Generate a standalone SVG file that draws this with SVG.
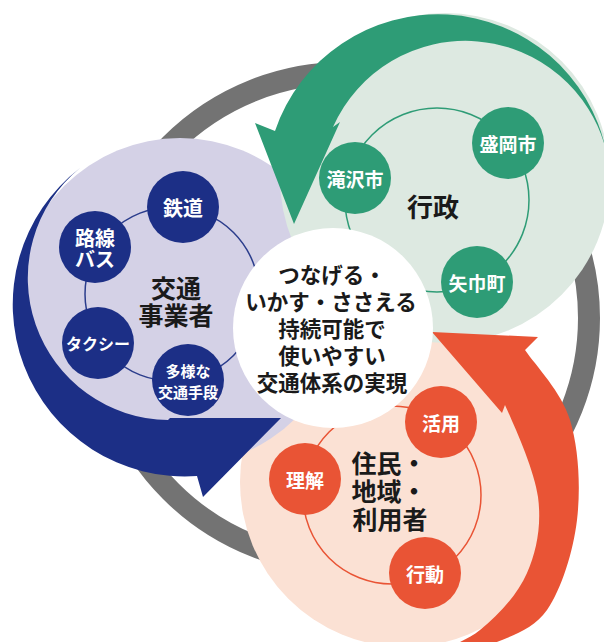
<svg xmlns="http://www.w3.org/2000/svg" width="604" height="642" viewBox="0 0 604 642">
<style>
.jp{font-family:"Noto Sans CJK JP","Noto Sans CJK SC",sans-serif;text-anchor:middle;dominant-baseline:central}
.nl{fill:#ffffff;font-weight:700;font-size:19px}
.hd{fill:#1a1a1a;font-weight:700}
.ring{fill:none;stroke-width:1.5}
.navy{fill:#1c2f86}
.green{fill:#2e9c76}
.orange{fill:#e95435}
</style>
<rect width="604" height="642" fill="#ffffff"/>
<g id="background">
  <circle cx="344" cy="318" r="245" fill="none" stroke="#737373" stroke-width="22"/>
  <circle id="disc-residents" cx="405" cy="482" r="165" fill="#fbe1d4"/>
  <circle id="disc-operators" cx="180" cy="302" r="164" fill="#d4d1e6"/>
  <circle id="disc-government" cx="445" cy="178" r="165" fill="#dde9e1"/>
</g>
<g id="connectors">
  <circle class="ring" cx="172" cy="294" r="87" stroke="#2b3d8c"/>
  <circle class="ring" cx="437" cy="200" r="92" stroke="#2e9c76"/>
  <circle class="ring" cx="392" cy="495" r="89" stroke="#e95435"/>
</g>
<g id="cycle-arrows">
  <path id="arrow-green" class="green" d="M606,150 A172,172 0 0 0 275,131 L255,123 L294,224 L340,122 L333,127 A145,145 0 0 1 606,150 Z"/>
  <path id="arrow-navy" class="navy" d="M80,168 A172,172 0 0 0 197,476 L203,497 L281,418 L170,418 L168,420 A142,142 0 0 1 80,168 Z"/>
  <path id="arrow-orange" class="orange" d="M432,332 L538,337 L525,350 C535.8,365.8 561.3,391.7 570,420 C578.7,448.3 580.8,488.3 577,520 C573.2,551.7 561.5,589.2 547,610 C532.5,630.8 507.8,636.7 490,645 L440,660 L420,658 C435,651.3 462.2,644.2 480,630 C497.8,615.8 517.3,595.2 527,573 C536.7,550.8 541.7,525 538,497 C534.3,469 513,422.8 505,405 L502,413 Z"/>
</g>
<g id="node-operators-label">
  <text class="jp hd" font-size="25"><tspan x="176" y="287">交通</tspan><tspan x="176" y="314">事業者</tspan></text>
</g>
<g id="node-tetsudo">
  <circle class="navy" cx="183" cy="207" r="36"/>
  <text class="jp nl" x="183" y="207" style="font-size:20px">鉄道</text>
</g>
<g id="node-rosen-bus">
  <circle class="navy" cx="95" cy="247" r="36"/>
  <text class="jp nl" style="font-size:20px"><tspan x="95" y="237">路線</tspan><tspan x="95" y="258">バス</tspan></text>
</g>
<g id="node-taxi">
  <circle class="navy" cx="98" cy="343" r="36"/>
  <text class="jp nl" x="98" y="343" style="font-size:16px">タクシー</text>
</g>
<g id="node-various">
  <circle class="navy" cx="188" cy="380" r="36"/>
  <text class="jp nl" style="font-size:15px"><tspan x="188" y="370">多様な</tspan><tspan x="188" y="391">交通手段</tspan></text>
</g>
<g id="node-government-label">
  <text class="jp hd" x="433" y="205" font-size="26">行政</text>
</g>
<g id="node-morioka">
  <circle class="green" cx="508" cy="143" r="36"/>
  <text class="jp nl" x="508" y="143">盛岡市</text>
</g>
<g id="node-takizawa">
  <circle class="green" cx="355" cy="178" r="36"/>
  <text class="jp nl" x="355" y="178">滝沢市</text>
</g>
<g id="node-yahaba">
  <circle class="green" cx="477" cy="282" r="36"/>
  <text class="jp nl" x="477" y="282">矢巾町</text>
</g>
<g id="node-residents-label">
  <text class="jp hd" font-size="25"><tspan x="389" y="462">住民・</tspan><tspan x="389" y="490">地域・</tspan><tspan x="390" y="518">利用者</tspan></text>
</g>
<g id="node-katsuyo">
  <circle class="orange" cx="441" cy="422" r="36"/>
  <text class="jp nl" x="441" y="422">活用</text>
</g>
<g id="node-rikai">
  <circle class="orange" cx="305" cy="479" r="36"/>
  <text class="jp nl" x="305" y="479">理解</text>
</g>
<g id="node-kodo">
  <circle class="orange" cx="425" cy="573" r="36"/>
  <text class="jp nl" x="425" y="573">行動</text>
</g>
<g id="node-center">
  <circle cx="333" cy="328" r="100" fill="#ffffff"/>
  <text class="jp hd" font-size="21.5"><tspan x="332" y="273">つなげる・</tspan><tspan x="331" y="300">いかす・ささえる</tspan><tspan x="332" y="327">持続可能で</tspan><tspan x="332" y="354">使いやすい</tspan><tspan x="332" y="381">交通体系の実現</tspan></text>
</g>
</svg>
